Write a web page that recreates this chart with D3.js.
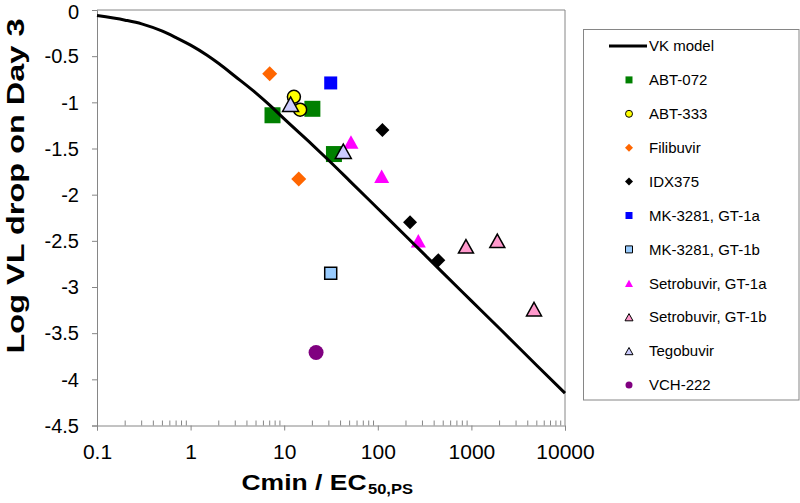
<!DOCTYPE html>
<html>
<head>
<meta charset="utf-8">
<script src="https://cdn.jsdelivr.net/npm/d3@7/dist/d3.min.js"></script>
<style>
  html, body { margin: 0; padding: 0; background: #fff; }
  svg { display: block; font-family: "Liberation Sans", Arial, sans-serif; }
</style>
</head>
<body>
<svg id="chart" width="800" height="503"></svg>
<script>
// ---- Data ----
const xTicks = [0.1, 1, 10, 100, 1000, 10000];
const xTickLabels = ["0.1", "1", "10", "100", "1000", "10000"];
const yTicks = [0, -0.5, -1, -1.5, -2, -2.5, -3, -3.5, -4, -4.5];
const yTickLabels = ["0", "-0.5", "-1", "-1.5", "-2", "-2.5", "-3", "-3.5", "-4", "-4.5"];

// VK model curve
const vkX = [0.1, 0.2, 0.3, 0.5, 0.7, 1, 1.5, 2, 3, 5, 7, 10, 20, 30, 50, 100, 200, 500, 1000, 2000, 5000, 10000];
const vkY = [-0.06, -0.11, -0.15, -0.23, -0.30, -0.38, -0.49, -0.58, -0.72, -0.90, -1.03, -1.18, -1.46, -1.63, -1.85, -2.15, -2.45, -2.85, -3.15, -3.45, -3.85, -4.15];

const seriesNames = ["ABT-072", "ABT-333", "Filibuvir", "IDX375", "MK-3281, GT-1a", "MK-3281, GT-1b",
                     "Setrobuvir, GT-1a", "Setrobuvir, GT-1b", "Tegobuvir", "VCH-222"];
const abt072X = [7.5, 20, 34];        const abt072Y = [-1.14, -1.07, -1.56];
const abt333X = [12.7, 14.8];         const abt333Y = [-0.94, -1.08];
const filibuvirX = [7.0, 14.3];       const filibuvirY = [-0.69, -1.83];
const idx375X = [112, 221, 443];      const idx375Y = [-1.30, -2.30, -2.71];
const mk1aX = [31.4];                 const mk1aY = [-0.79];
const mk1bX = [31.4];                 const mk1bY = [-2.85];
const setro1aX = [51.7, 110, 271];    const setro1aY = [-1.43, -1.80, -2.50];
const setro1bX = [875, 1892, 4666];   const setro1bY = [-2.56, -2.50, -3.24];
const tegoX = [11.7, 42.8];           const tegoY = [-1.02, -1.53];
const vchX = [21.9];                  const vchY = [-3.71];

// ---- Styles ----
const styles = [
  {shape: "square",   size: 16, fill: "#008000", stroke: "none",  lsize: 7},
  {shape: "circle",   size: 13, fill: "#ffff00", stroke: "#000",  lsize: 7},
  {shape: "diamond",  size: 15, fill: "#ff6600", stroke: "none",  lsize: 8},
  {shape: "diamond",  size: 14, fill: "#000000", stroke: "none",  lsize: 8},
  {shape: "square",   size: 13, fill: "#0000ff", stroke: "none",  lsize: 7},
  {shape: "square",   size: 12, fill: "#99ccff", stroke: "#000",  lsize: 7},
  {shape: "triangle", size: 15, fill: "#ff00ff", stroke: "none",  lsize: 8},
  {shape: "triangle", size: 15, fill: "#ff99cc", stroke: "#000",  lsize: 8},
  {shape: "triangle", size: 16, fill: "#ccccff", stroke: "#000",  lsize: 8},
  {shape: "circle",   size: 15, fill: "#800080", stroke: "none",  lsize: 7}
];
const seriesX = [abt072X, abt333X, filibuvirX, idx375X, mk1aX, mk1bX, setro1aX, setro1bX, tegoX, vchX];
const seriesY = [abt072Y, abt333Y, filibuvirY, idx375Y, mk1aY, mk1bY, setro1aY, setro1bY, tegoY, vchY];

const svg = d3.select("#chart");
const L = 97, R = 565, T = 10, B = 425.5;
const x = d3.scaleLog().domain([0.1, 10000]).range([L, R]);
const y = d3.scaleLinear().domain([-4.5, 0]).range([B, T]);
const axisColor = "#868686";

function markerPath(shape, s) {
  const h = s / 2;
  if (shape === "square") return `M${-h},${-h}H${h}V${h}H${-h}Z`;
  if (shape === "diamond") return `M0,${-h}L${h},0L0,${h}L${-h},0Z`;
  if (shape === "triangle") {
    const th = s * 0.9;
    return `M0,${-th/2}L${h},${th/2}L${-h},${th/2}Z`;
  }
  if (shape === "circle") return `M${h},0A${h},${h} 0 1,1 ${-h},0A${h},${h} 0 1,1 ${h},0Z`;
}

// Plot border (top, right)
svg.append("line").attr("x1", L).attr("x2", R).attr("y1", T).attr("y2", T)
  .attr("stroke", axisColor).attr("stroke-width", 1);
svg.append("line").attr("x1", R).attr("x2", R).attr("y1", T).attr("y2", B)
  .attr("stroke", axisColor).attr("stroke-width", 1);

// Y axis
const yAxis = d3.axisLeft(y).tickValues(yTicks)
  .tickFormat((d, i) => yTickLabels[i]).tickSize(5).tickPadding(13);
const gy = svg.append("g").attr("transform", `translate(${L},0)`).call(yAxis);
gy.select(".domain").attr("stroke", axisColor);
gy.selectAll(".tick line").attr("stroke", axisColor);
gy.selectAll(".tick text").attr("font-size", 20).attr("fill", "#000")
  .attr("font-family", "Liberation Sans, Arial, sans-serif")
  .attr("dy", (d, i) => i === 0 ? "0.42em" : "0.34em");

// X axis
const xAxis = d3.axisBottom(x).tickValues(xTicks)
  .tickFormat((d, i) => xTickLabels[i]).tickSize(5);
const gx = svg.append("g").attr("transform", `translate(0,${B})`).call(xAxis);
gx.select(".domain").attr("stroke", axisColor);
gx.selectAll(".tick line").attr("stroke", axisColor);
gx.selectAll(".tick text").attr("font-size", 21).attr("fill", "#000")
  .attr("font-family", "Liberation Sans, Arial, sans-serif")
  .attr("y", 33.5).attr("dy", 0);
// minor ticks (inside)
const minor = [];
for (let i = 0; i < xTicks.length - 1; i++) for (let k = 2; k <= 9; k++) minor.push(xTicks[i] * k);
svg.append("g").selectAll("line").data(minor).join("line")
  .attr("x1", d => x(d)).attr("x2", d => x(d))
  .attr("y1", B).attr("y2", B - 5)
  .attr("stroke", axisColor).attr("stroke-width", 1);

// Data markers
const gm = svg.append("g");
seriesX.forEach((xs, si) => {
  const st = styles[si];
  gm.append("g").selectAll("path").data(xs.map((v, i) => [v, seriesY[si][i]])).join("path")
    .attr("d", markerPath(st.shape, st.size))
    .attr("transform", d => `translate(${x(d[0])},${y(d[1])})`)
    .attr("fill", st.fill)
    .attr("stroke", st.stroke).attr("stroke-width", st.stroke === "none" ? 0 : 1.5);
});

// VK model curve
const line = d3.line().x(d => x(d[0])).y(d => y(d[1])).curve(d3.curveMonotoneX);
svg.append("path").datum(vkX.map((v, i) => [v, vkY[i]]))
  .attr("d", line).attr("fill", "none").attr("stroke", "#000").attr("stroke-width", 3);

// Axis titles
svg.append("text").attr("transform", "translate(24,186) rotate(-90)")
  .attr("text-anchor", "middle").attr("font-weight", "bold").attr("font-size", 23)
  .attr("textLength", 335).attr("lengthAdjust", "spacingAndGlyphs")
  .text("Log VL drop on Day 3");
svg.append("text").attr("x", 241.5).attr("y", 489.5)
  .attr("font-weight", "bold").attr("font-size", 22)
  .attr("textLength", 125).attr("lengthAdjust", "spacingAndGlyphs")
  .text("Cmin / EC");
svg.append("text").attr("x", 368).attr("y", 493.5)
  .attr("font-weight", "bold").attr("font-size", 14)
  .attr("textLength", 45).attr("lengthAdjust", "spacingAndGlyphs")
  .text("50,PS");

// Legend
const lg = svg.append("g");
lg.append("rect").attr("x", 583.5).attr("y", 29.5).attr("width", 215.5).attr("height", 370.5)
  .attr("fill", "#fff").attr("stroke", axisColor).attr("stroke-width", 1);
const ly0 = 46, ldy = 33.9;
lg.append("line").attr("x1", 609).attr("x2", 647).attr("y1", ly0).attr("y2", ly0)
  .attr("stroke", "#000").attr("stroke-width", 3);
lg.append("text").attr("x", 649).attr("y", ly0).attr("dy", "0.35em")
  .attr("font-size", 15).text("VK model");
seriesNames.forEach((name, i) => {
  const yy = ly0 + ldy * (i + 1);
  const st = styles[i];
  lg.append("path").attr("d", markerPath(st.shape, st.lsize))
    .attr("transform", `translate(629,${yy})`)
    .attr("fill", st.fill).attr("stroke", st.stroke).attr("stroke-width", st.stroke === "none" ? 0 : 1);
  lg.append("text").attr("x", 649).attr("y", yy).attr("dy", "0.35em")
    .attr("font-size", 15).text(name);
});
</script>
</body>
</html>
